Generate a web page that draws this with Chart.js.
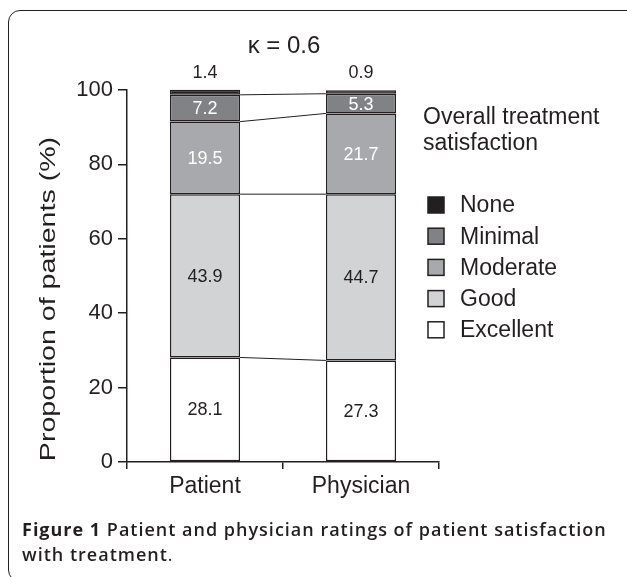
<!DOCTYPE html>
<html><head><meta charset="utf-8">
<script src="https://cdn.jsdelivr.net/npm/chart.js@4/dist/chart.umd.min.js"></script>
<style>
html,body{margin:0;padding:0;background:#fff;}
#wrap{position:relative;width:627px;height:577px;overflow:hidden;background:#fff;}
#frame{position:absolute;left:8px;top:10px;width:640px;height:572px;border:1.5px solid #231f20;border-radius:12px;box-sizing:border-box;}
#c{position:absolute;left:0;top:0;}
#cap{position:absolute;left:22px;top:517px;width:610px;white-space:nowrap;font-family:"Open Sans",sans-serif;font-size:18px;letter-spacing:1px;line-height:25px;color:#231f20;font-weight:600;}
#cap b{font-weight:700;}
</style></head>
<body><div id="wrap"><div id="frame"></div><canvas id="c" width="627" height="577"></canvas>
<div id="cap"><b>Figure 1</b> Patient and physician ratings of patient satisfaction<br>with treatment<span style="font-weight:400">.</span></div></div>
<script>
const categories = ["Patient", "Physician"];
const levels = ["Excellent", "Good", "Moderate", "Minimal", "None"];
const excellent = [28.1, 27.3];
const good = [43.9, 44.7];
const moderate = [19.5, 21.7];
const minimal = [7.2, 5.3];
const none = [1.4, 0.9];
const yTicks = [0, 20, 40, 60, 80, 100];
const fills = ["#ffffff", "#d1d3d4", "#a7a9ac", "#808285", "#231f20"];
const labelColors = ["#231f20", "#231f20", "#ffffff", "#ffffff", "#231f20"];
const kappaText = "\u03BA = 0.6";
const yTitle = "Proportion of patients (%)";
const legendTitle = ["Overall treatment", "satisfaction"];

const INK = "#231f20";
const FONT = "'Liberation Sans', Arial, sans-serif";
const series = [excellent, good, moderate, minimal, none];

const overlay = {
  id: 'overlay',
  afterDatasetsDraw(chart) {
    const ctx = chart.ctx, ca = chart.chartArea;
    ctx.save();
    // connecting lines between stack boundaries
    ctx.strokeStyle = INK; ctx.lineWidth = 1;
    for (let d = 0; d < 4; d++) {
      const meta = chart.getDatasetMeta(d);
      const a = meta.data[0], b = meta.data[1];
      ctx.beginPath();
      ctx.moveTo(a.x + a.width / 2, a.y);
      ctx.lineTo(b.x - b.width / 2, b.y);
      ctx.stroke();
    }
    // value labels
    ctx.textAlign = 'center'; ctx.textBaseline = 'middle';
    ctx.font = "18px " + FONT;
    series.forEach((vals, d) => {
      const meta = chart.getDatasetMeta(d);
      meta.data.forEach((bar, i) => {
        ctx.fillStyle = labelColors[d];
        const txt = vals[i].toFixed(1);
        if (d === 4) {
          ctx.fillText(txt, bar.x, bar.y - 17);
        } else {
          ctx.fillText(txt, bar.x, (bar.y + bar.base) / 2 + 1);
        }
      });
    });
    // kappa
    ctx.fillStyle = INK;
    ctx.font = "24px " + FONT;
    ctx.fillText(kappaText, (ca.left + ca.right) / 2 + 1, 46);
    // y title (stretched along its length as in the reference)
    ctx.save();
    ctx.translate(49, 299);
    ctx.rotate(-Math.PI / 2);
    ctx.scale(1.3, 1);
    ctx.font = "22px " + FONT;
    ctx.fillText(yTitle, 0, 0);
    ctx.restore();
    // legend
    ctx.textAlign = 'left';
    ctx.font = "23px " + FONT;
    ctx.fillText(legendTitle[0], 423, 118);
    ctx.fillText(legendTitle[1], 423, 144);
    const order = [4, 3, 2, 1, 0];
    order.forEach((d, k) => {
      const cy = 205 + k * 31.2;
      ctx.fillStyle = fills[d];
      ctx.fillRect(428, cy - 8, 16, 16);
      ctx.strokeStyle = INK; ctx.lineWidth = 1.5;
      ctx.strokeRect(428, cy - 8, 16, 16);
      ctx.fillStyle = INK;
      ctx.fillText(levels[d], 460, cy + 1);
    });
    ctx.restore();
  }
};

new Chart(document.getElementById('c'), {
  type: 'bar',
  data: {
    labels: categories,
    datasets: series.map((vals, d) => ({
      label: levels[d],
      data: vals,
      backgroundColor: fills[d],
      borderColor: INK,
      borderWidth: 1.5,
      borderSkipped: false,
      barPercentage: 0.45,
      categoryPercentage: 1.0,
      clip: false
    }))
  },
  options: {
    responsive: false,
    animation: false,
    devicePixelRatio: 1,
    layout: { padding: { left: 0, top: 90, right: 188, bottom: 0 } },
    plugins: { legend: { display: false }, tooltip: { enabled: false }, title: { display: false } },
    scales: {
      x: {
        stacked: true,
        afterFit: s => { s.height = 115; },
        grid: { display: true, drawOnChartArea: false, drawTicks: true, tickLength: 7, color: INK, lineWidth: 1.5, offset: true },
        border: { display: true, color: INK, width: 1.5 },
        ticks: { color: INK, font: { family: FONT, size: 23 }, padding: 4 }
      },
      y: {
        stacked: true,
        min: 0, max: 100,
        afterFit: s => { s.width = 127; },
        afterBuildTicks: s => { s.ticks = yTicks.map(v => ({ value: v })); },
        grid: { display: true, drawOnChartArea: false, drawTicks: true, tickLength: 9, color: INK, lineWidth: 1.5 },
        border: { display: true, color: INK, width: 1.5 },
        ticks: { color: INK, font: { family: FONT, size: 22 }, padding: 5 }
      }
    }
  },
  plugins: [overlay]
});
</script>
</body></html>
